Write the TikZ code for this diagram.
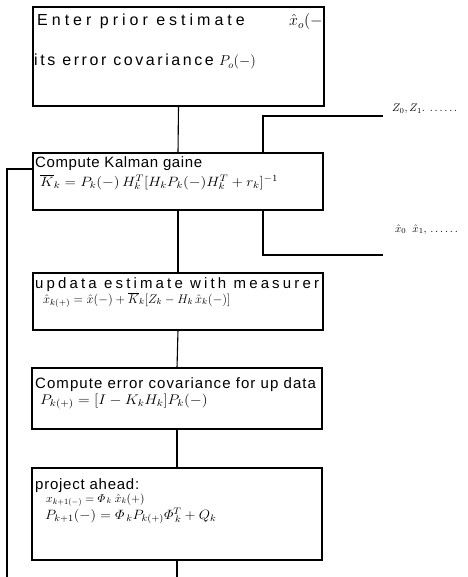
\RequirePackage{fix-cm}
\documentclass[tikz,border=0pt]{standalone}
\usepackage{fontspec}
\setmainfont{Liberation Sans}
\usetikzlibrary{calc}
\newcommand{\ls}[1]{\addfontfeatures{LetterSpace=#1}}
\newcommand{\Ph}{\mathnormal{\Phi}}
\newcommand{\sx}[2]{\scalebox{#1}[1]{#2}}
\tikzset{
  boxn/.style={draw, line width=1.4pt, inner sep=0pt, outer sep=0pt, anchor=north west},
  txt/.style={anchor=base west, inner sep=0pt, font=\fontsize{15}{18}\selectfont},
  bigtxt/.style={anchor=base west, inner sep=0pt, font=\fontsize{16}{19}\selectfont},
  fml/.style={anchor=base west, inner sep=0pt, font=\fontsize{13.5}{16}\selectfont},
  lbl/.style={anchor=base west, inner sep=0pt, font=\fontsize{11}{13}\selectfont},
  conn/.style={line width=1.1pt},
}
\begin{document}
\begin{tikzpicture}[x=1pt,y=-1pt]
\useasboundingbox (0,0) rectangle (467,577);
% boxes
\node[boxn, minimum width=291pt, minimum height=99pt] (b1) at (33,7) {};
\node[boxn, minimum width=290pt, minimum height=57pt] (b2) at (33,153) {};
\node[boxn, minimum width=290pt, minimum height=57pt] (b3) at (33,273) {};
\node[boxn, minimum width=290pt, minimum height=61pt] (b4) at (32,368) {};
\node[boxn, minimum width=290pt, minimum height=92pt] (b5) at (32,468) {};
% box 1 text (clipped at the right edge)
\begin{scope}
  \clip (b1.north west) rectangle (b1.south east);
  \node[bigtxt] (t1a) at (37,26) {\ls{25}Enter prior estimate};
  \node[bigtxt, font=\fontsize{16}{19}\selectfont] (t1b) at (289,26) {$\hat{x}_o(-)$};
  \node[bigtxt] (t1c) at (34,66) {\ls{16}its error covariance};
  \node[bigtxt, font=\fontsize{14.4}{17}\selectfont] (t1d) at (219,66) {$P_o(-)$};
\end{scope}
% box 2
\node[txt] (t2a) at (35,168) {\ls{4}Compute Kalman gaine};
\node[fml] (t2b) at (40,186) {\sx{1.12}{$\overline{K}_k = P_k(-)\,H_k^{T}[H_kP_k(-)H_k^{T}+r_k]^{-1}$}};
% box 3
\node[txt] (t3a) at (35,288) {\ls{21}updata estimate with measurer};
\node[fml, font=\fontsize{12.5}{14}\selectfont] (t3b) at (43,303) {$\hat{x}_{k(+)} = \hat{x}(-) + \overline{K}_k[Z_k - H_k\,\hat{x}_k(-)]$};
% box 4
\node[txt] (t4a) at (35,388) {\ls{7}Compute error covariance for up data};
\node[fml, font=\fontsize{14}{16}\selectfont] (t4b) at (40,404) {\sx{1.1}{$P_{k(+)} = [I - K_kH_k]P_k(-)$}};
% box 5
\node[txt] (t5a) at (35,489) {\ls{5}project ahead:};
\node[fml, font=\fontsize{11.5}{14}\selectfont] (t5b) at (46,502) {$x_{k+1(-)} = \Ph_{\,k}\;\hat{x}_k(+)$};
\node[fml] (t5c) at (45,519) {\sx{1.07}{$P_{k+1}(-) = \Ph_{\,k}P_{k(+)}\Ph_{\,k}^{T} + Q_k$}};
% side labels
\node[lbl] (zl) at (392,112) {$Z_0,Z_1.\;\ldots\ldots$};
\node[lbl] (xl) at (395,232) {$\hat{x}_0\;\;\hat{x}_1,\,\ldots\ldots$};
% coordinates
\coordinate (zin) at (383,116);
\coordinate (xout) at (383,255);
\coordinate (zx) at (263,0);
\coordinate (fbot) at (7,577);
% connectors
\draw[conn] (b1.south) -- (b2.north);
\draw[conn] (b2.south) -- (b3.north);
\draw[conn] (b3.south) -- (b4.north);
\draw[conn] (b4.south) -- (b5.north);
\draw[conn] (b5.south) -- (b5.south |- fbot);
\draw[conn] (zin) -| (zx |- b2.north);
\draw[conn] (zx |- b2.south) |- (xout);
\draw[conn] (fbot) |- ($(b2.north west)+(0,16)$);
\end{tikzpicture}
\end{document}
